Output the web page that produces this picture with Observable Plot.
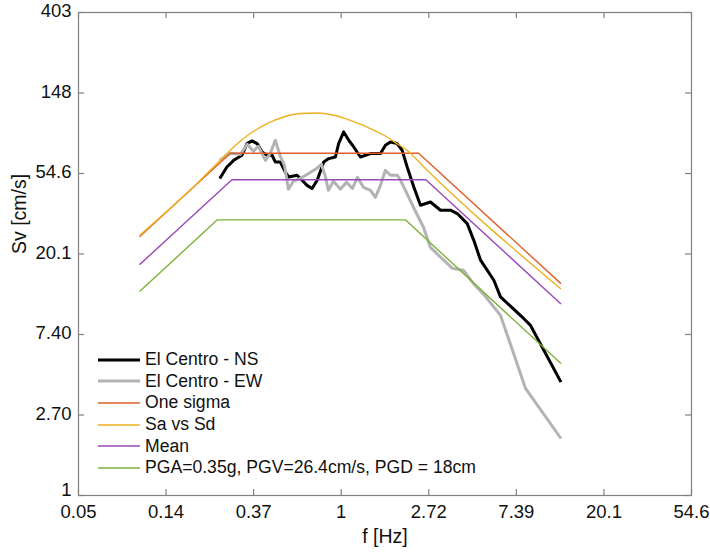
<!DOCTYPE html>
<html><head><meta charset="utf-8">
<script src="https://cdn.jsdelivr.net/npm/d3@7"></script>
<script src="https://cdn.jsdelivr.net/npm/@observablehq/plot@0.6"></script>
<style>
body{margin:0;background:#fff;}
#wrap{position:relative;width:710px;height:555px;}
#legend{position:absolute;left:98px;top:349px;font-family:"Liberation Sans",Arial,sans-serif;font-size:17.6px;color:#111;}
.row{display:flex;align-items:center;height:21.6px;white-space:nowrap;}
.row svg{margin-right:5px;}
</style></head><body><div id="wrap"><div id="legend"></div></div>
<script>
// tick values (e^n) and their printed labels
const xTicks = [0.04979, 0.1353, 0.3679, 1, 2.718, 7.389, 20.09, 54.60];
const xTickLabels = ["0.05", "0.14", "0.37", "1", "2.72", "7.39", "20.1", "54.6"];
const yTicks = [1, 2.718, 7.389, 20.09, 54.60, 148.4, 403.4];
const yTickLabels = ["1", "2.70", "7.40", "20.1", "54.6", "148", "403"];

// El Centro - NS
const nsF = [0.25,0.271,0.293,0.322,0.341,0.361,0.383,0.405,0.429,0.454,0.471,0.499,0.528,0.549,0.604,0.640,0.677,0.717,0.760,0.819,0.867,0.936,0.971,1.029,1.090,1.154,1.245,1.397,1.565,1.657,1.754,1.894,2.006,2.124,2.291,2.472,2.771,3.108,3.483,3.762,4.216,4.545,4.909,5.714,6.166,8.052,8.689,12.3];
const nsSv = [51.3,59.2,64.3,68.5,79.2,81.8,79.2,71.3,68.5,68.5,63.0,63.0,55.6,52.3,53.4,50.2,47.1,45.3,50.2,63.0,65.7,67.0,79.2,91.5,82.5,75.9,67.0,69.9,69.9,77.5,80.8,79.2,72.8,59.2,46.2,36.8,38.3,34.6,34.6,33.2,29.3,23.8,18.6,14.5,11.8,8.99,8.27,4.09];
// El Centro - EW
const ewF = [0.25,0.282,0.316,0.342,0.367,0.388,0.421,0.445,0.471,0.499,0.523,0.547,0.579,0.628,0.680,0.745,0.798,0.834,0.864,0.915,0.991,1.061,1.137,1.203,1.289,1.397,1.478,1.565,1.657,1.754,1.900,1.968,2.083,2.282,2.558,2.771,3.108,3.564,4.043,4.531,5.078,6.166,8.207,12.3];
const ewSv = [64.3,70.2,69.3,78.5,71.9,76.6,64.3,70.2,82.5,67.6,60.4,44.9,49.6,51.4,54.1,57.5,61.2,52.7,44.3,49.6,44.9,49.0,45.4,52.1,46.0,44.3,40.6,47.1,56.8,53.4,53.4,50.2,44.3,35.9,28.0,21.8,19.3,16.8,16.4,13.9,12.2,9.37,3.78,2.03];
// One sigma
const sigmaF = [0.1, 0.282, 2.42, 12.3];
const sigmaSv = [24.9, 70.2, 70.2, 13.9];
// Sa vs Sd
const sasdF = [0.1,0.200,0.242,0.293,0.354,0.429,0.518,0.627,0.760,0.918,1.11,1.34,1.63,1.89,2.12,2.57,12.3];
const sasdSv = [25.3,50.2,61.8,75.9,89.7,101.5,110.2,115,115.8,112.5,105.7,97.3,87.8,79.2,72.9,59.2,13.0];
// Mean
const meanF = [0.1, 0.287, 2.63, 12.3];
const meanSv = [17.6, 50.5, 50.5, 10.8];
// PGA=0.35g, PGV=26.4cm/s, PGD = 18cm
const pgaF = [0.1, 0.243, 2.08, 12.3];
const pgaSv = [12.6, 30.7, 30.7, 5.15];

const seriesNames = ["El Centro - NS", "El Centro - EW", "One sigma", "Sa vs Sd", "Mean", "PGA=0.35g, PGV=26.4cm/s, PGD = 18cm"];
const seriesColors = ["#000000", "#b3b3b3", "#DF5F2A", "#EDB120", "#9A48B8", "#7DB23A"];
const seriesWidths = [3, 3, 1.4, 1.4, 1.4, 1.4];

const toRows = (fs, vs) => fs.map((f, i) => ({f, sv: vs[i]}));
const series = [
  toRows(nsF, nsSv), toRows(ewF, ewSv), toRows(sigmaF, sigmaSv),
  toRows(sasdF, sasdSv), toRows(meanF, meanSv), toRows(pgaF, pgaSv)
];
const xTickRows = xTicks.map((v, i) => ({v, label: xTickLabels[i]}));
const yTickRows = yTicks.map((v, i) => ({v, label: yTickLabels[i]}));

const W = 710, H = 555, mL = 78, mR = 19, mT = 12, mB = 60;
const innerW = W - mL - mR, innerH = H - mT - mB;
const tickLen = 6;
const frameColor = "#808080";
const font = '"Liberation Sans", Arial, sans-serif';

const lineMarks = series.map((rows, i) => Plot.line(rows, {
  x: "f", y: "sv", stroke: seriesColors[i], strokeWidth: seriesWidths[i],
  curve: i === 3 ? "monotone-x" : "linear", strokeLinejoin: "round", strokeLinecap: "butt"
}));

const yLabelStyle = {y: "v", text: "label", frameAnchor: "left", dx: -7, textAnchor: "end", fontSize: 18.5, fill: "#111"};

const chart = Plot.plot({
  width: W, height: H, marginLeft: mL, marginRight: mR, marginTop: mT, marginBottom: mB,
  style: {fontFamily: font, fontSize: "19px", color: "#111", background: "#fff"},
  x: {type: "log", domain: [xTicks[0], xTicks[xTicks.length - 1]], axis: null},
  y: {type: "log", domain: [yTicks[0], yTicks[yTicks.length - 1]], axis: null},
  marks: [
    ...lineMarks,
    Plot.frame({stroke: frameColor, strokeWidth: 1.2}),
    Plot.tickX(xTicks, {x: d => d, insetTop: innerH - tickLen, stroke: frameColor, strokeWidth: 1.2}),
    Plot.tickX(xTicks, {x: d => d, insetBottom: innerH - tickLen, stroke: frameColor, strokeWidth: 1.2}),
    Plot.tickY(yTicks, {y: d => d, insetRight: innerW - tickLen, stroke: frameColor, strokeWidth: 1.2}),
    Plot.tickY(yTicks, {y: d => d, insetLeft: innerW - tickLen, stroke: frameColor, strokeWidth: 1.2}),
    Plot.text(xTickRows, {x: "v", text: "label", frameAnchor: "bottom", dy: 22, fontSize: 18.5, fill: "#111"}),
    Plot.text(yTickRows.slice(1), {...yLabelStyle, dy: -1}),
    Plot.text(yTickRows.slice(0, 1), {...yLabelStyle, dy: -5}),
    Plot.text(["f [Hz]"], {frameAnchor: "bottom", dy: 47, fontSize: 19.5, fill: "#111"}),
    Plot.text(["Sv [cm/s]"], {frameAnchor: "left", dx: -59, rotate: -90, fontSize: 19.5, fill: "#111"})
  ]
});

const wrap = document.getElementById("wrap");
wrap.insertBefore(chart, wrap.firstChild);

const legend = document.getElementById("legend");
seriesNames.forEach((name, i) => {
  const row = document.createElement("div");
  row.className = "row";
  row.innerHTML = `<svg width="42" height="8"><line x1="0" x2="42" y1="4" y2="4" stroke="${seriesColors[i]}" stroke-width="${seriesWidths[i]}"/></svg><span>${name}</span>`;
  legend.appendChild(row);
});
</script></body></html>
